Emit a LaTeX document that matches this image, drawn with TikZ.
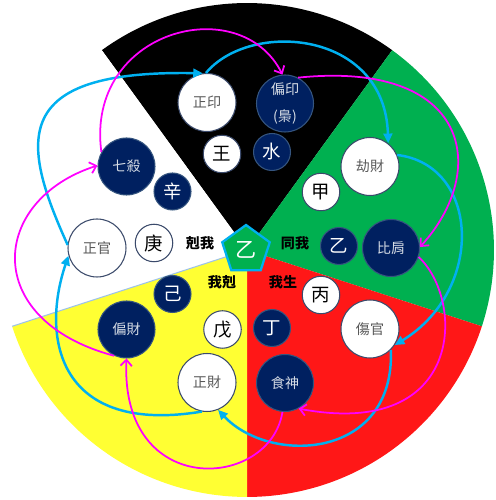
\documentclass[tikz,border=0pt]{standalone}
\usepackage{fontspec}
\setmainfont{Noto Sans CJK TC}
\usetikzlibrary{shapes.geometric,arrows.meta}
\definecolor{navy}{HTML}{002060}
\definecolor{secgreen}{HTML}{00B050}
\definecolor{secred}{HTML}{FF1717}
\definecolor{secyellow}{HTML}{FFFF33}
\definecolor{cyanc}{HTML}{00B0F0}
\definecolor{magc}{HTML}{FF00FF}
\definecolor{wline}{HTML}{3B4A6B}
\definecolor{nline}{HTML}{35557F}
\definecolor{wtext}{HTML}{595959}
\definecolor{ntext}{HTML}{D6DCE5}
\definecolor{edgeblue}{HTML}{9DC3E6}
\tikzset{
  wbig/.style={circle, fill=white, draw=wline, line width=0.6pt, minimum size=1.16cm, inner sep=0pt, text=wtext, font=\fontsize{8}{9}\selectfont},
  nbig/.style={circle, fill=navy, draw=nline, line width=0.6pt, minimum size=1.14cm, inner sep=0pt, text=ntext, font=\fontsize{8}{9}\selectfont},
  wsmall/.style={circle, fill=white, draw=wline, line width=0.6pt, minimum size=0.75cm, inner sep=0pt, text=black, font=\fontsize{10.5}{11}\selectfont},
  nsmall/.style={circle, fill=navy, draw=nline, line width=0.6pt, minimum size=0.74cm, inner sep=0pt, text=white, font=\fontsize{10.5}{11}\selectfont},
  lbl/.style={inner sep=0pt, text=black, font=\bfseries\fontsize{8}{9}\selectfont},
  cyarr/.style={draw=cyanc, line width=1.4pt, -{Triangle[length=5.5pt,width=5pt]}},
  mgarr/.style={draw=magc, line width=1pt, -{Straight Barb[length=3.5pt,width=6.5pt]}},
}
\begin{document}
\begin{tikzpicture}[x=0.02cm,y=0.02cm]
\useasboundingbox (0,0) rectangle (495,500);
\coordinate (C) at (247,250);
% sectors
\fill[black] (C) -- ++(54:4.94cm) arc[start angle=54, end angle=126, radius=4.94cm] -- cycle;
\fill[secgreen] (C) -- ++(-18:4.94cm) arc[start angle=-18, end angle=54, radius=4.94cm] -- cycle;
\fill[secred] (C) -- ++(-90:4.94cm) arc[start angle=-90, end angle=-18, radius=4.94cm] -- cycle;
\fill[secyellow] (C) -- ++(198:4.94cm) arc[start angle=198, end angle=270, radius=4.94cm] -- cycle;
\fill[white] (C) -- ++(126:4.94cm) arc[start angle=126, end angle=198, radius=4.94cm] -- cycle;
\draw[edgeblue, line width=0.6pt] (C) -- ++(198:4.94cm);

% nodes
\node[wbig] (zy) at (207,397.5) {正印};
\node[wsmall] (ren) at (222,346) {王};
\node[nbig, align=center, font=\fontsize{8}{15}\selectfont] (py) at (285,396.5) {偏印\\(梟)};
\node[nsmall] (shui) at (272,348) {水};
\node[nbig] (qs) at (126.5,333.5) {七殺};
\node[nsmall] (xin) at (172.5,308.5) {辛};
\node[wbig] (zg) at (97,252) {正官};
\node[wsmall] (geng) at (154,257) {庚};
\node[lbl] (kewo) at (200,257) {剋我};
\node[regular polygon, regular polygon sides=5, fill=secgreen, draw=cyanc, line width=1.3pt, minimum size=1.0cm, inner sep=0pt, text=white, font=\fontsize{12}{13}\selectfont] (ctr) at (246,250) {乙};
\node[lbl] (tongwo) at (295,257) {同我};
\node[nsmall] (yi) at (339,254) {乙};
\node[nbig] (bj) at (391,252) {比肩};
\node[wbig] (jc) at (370,333.5) {劫財};
\node[wsmall] (jia) at (321,308) {甲};
\node[lbl] (woke) at (222,218) {我剋};
\node[nsmall] (ji) at (172.5,206) {己};
\node[nbig] (pc) at (126.5,170.5) {偏財};
\node[wsmall] (wu) at (222.5,170.5) {戊};
\node[wbig] (zc) at (207,117.5) {正財};
\node[lbl] (wosheng) at (283,218) {我生};
\node[wsmall] (bing) at (321,205) {丙};
\node[nsmall] (ding) at (272,172) {丁};
\node[wbig] (sg) at (370,171) {傷官};
\node[nbig] (ss) at (285,117) {食神};

% cyan cycle
\draw[cyarr] (zg.174) .. controls (20,360) and (10,430) .. (zy.98);
\draw[cyarr] (zy.92) .. controls (250,480) and (385,470) .. (jc.52);
\draw[cyarr] (jc.23) .. controls (480,335) and (485,210) .. (sg.-33);
\draw[cyarr] (sg.-45) .. controls (395,40) and (270,35) .. (zc.-68);
\draw[cyarr] (zc.-100) .. controls (60,65) and (40,160) .. (zg.195);

% magenta cycle
\draw[mgarr] (pc.-115) .. controls (-20,180) and (-10,300) .. (qs.178);
\draw[mgarr] (qs.150) .. controls (85,470) and (240,510) .. (py.95);
\draw[mgarr] (py.63) .. controls (470,440) and (490,330) .. (bj.2);
\draw[mgarr] (bj.-18) .. controls (465,200) and (465,60) .. (ss.-62);
\draw[mgarr] (ss.-95) .. controls (270,10) and (120,0) .. (pc.-90);
\end{tikzpicture}
\end{document}
